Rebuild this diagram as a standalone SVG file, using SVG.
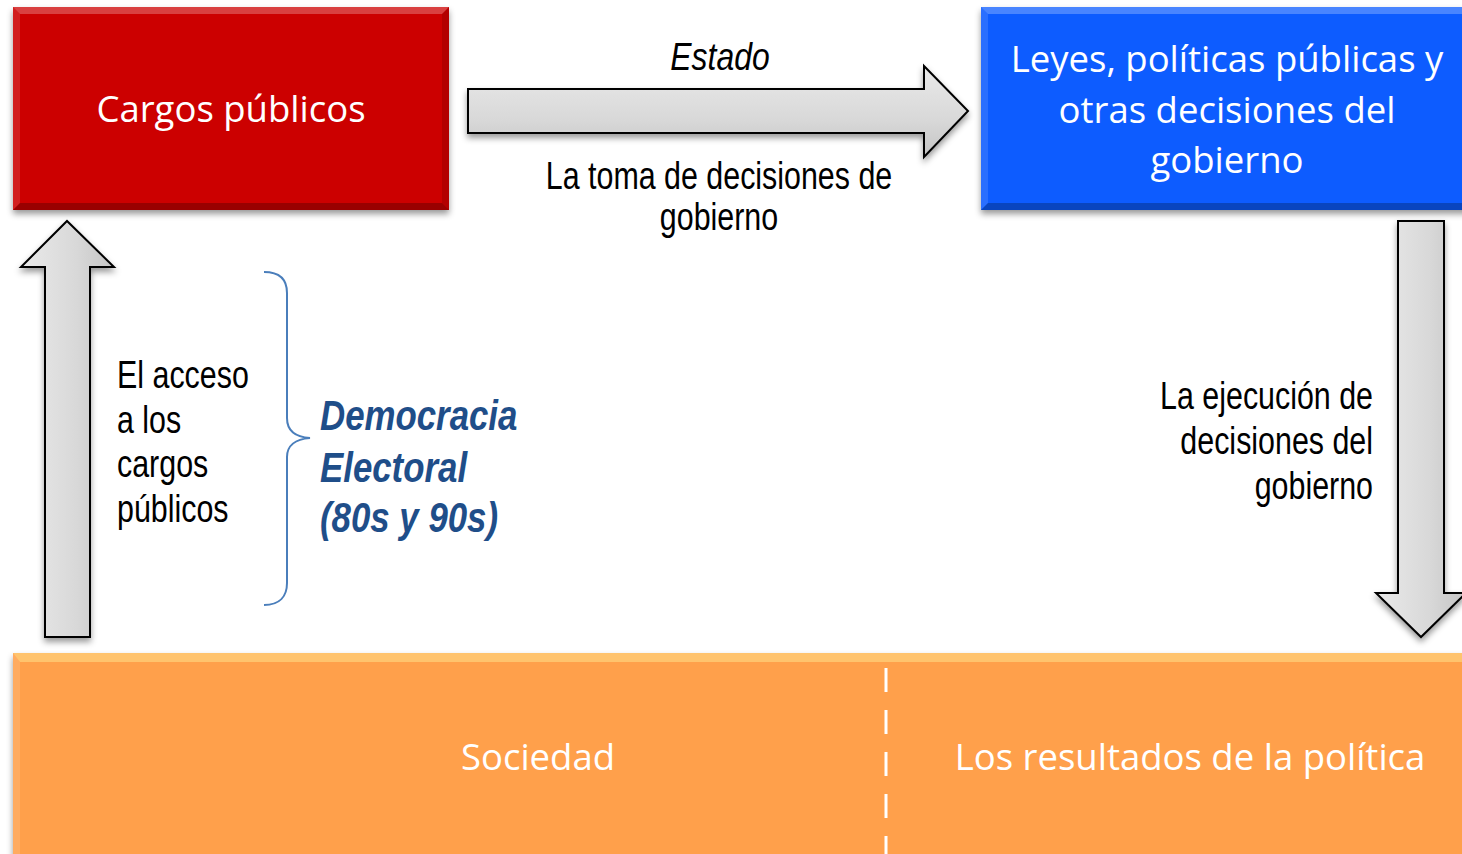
<svg xmlns="http://www.w3.org/2000/svg" width="1462" height="854" viewBox="0 0 1462 854">
<defs>
<style>
.box-t{font-family:"Open Sans","Noto Sans","Liberation Sans",sans-serif;font-size:36.5px;fill:#ffffff;text-anchor:middle}
.nar{font-family:"Liberation Sans",Arial,sans-serif;font-size:38px;fill:#000000}
.arrow{fill:url(#gv);stroke:#000000;stroke-width:2;stroke-linejoin:miter;filter:url(#sh)}
.hl{fill:#ffffff}
.dk{fill:#000000}
</style>
<filter id="sh" x="-10%" y="-10%" width="120%" height="130%">
<feDropShadow dx="0" dy="4" stdDeviation="3" flood-color="#000000" flood-opacity="0.4"/>
</filter>
<linearGradient id="gv" x1="0" y1="0" x2="1" y2="0">
<stop offset="0" stop-color="#EAEAEA"/>
<stop offset="0.6" stop-color="#D8D8D8"/>
<stop offset="1" stop-color="#C4C4C4"/>
</linearGradient>
<linearGradient id="gh" x1="0" y1="0" x2="0" y2="1">
<stop offset="0" stop-color="#EAEAEA"/>
<stop offset="0.6" stop-color="#D8D8D8"/>
<stop offset="1" stop-color="#C4C4C4"/>
</linearGradient>
</defs>

<g id="cargos">
<rect x="13" y="7" width="436" height="203" fill="#CC0606" filter="url(#sh)"/>
<polygon class="hl" opacity="0.25" points="13,7 449,7 442,14 20,14"/>
<polygon class="hl" opacity="0.12" points="13,7 20,14 20,203 13,210"/>
<polygon class="dk" opacity="0.12" points="449,7 449,210 442,203 442,14"/>
<polygon class="dk" opacity="0.25" points="13,210 20,203 442,203 449,210"/>
<text class="box-t" x="231" y="122">Cargos públicos</text>
</g>

<g id="leyes">
<rect x="981" y="7" width="495" height="203" fill="#0A5CFF" filter="url(#sh)"/>
<polygon class="hl" opacity="0.25" points="981,7 1476,7 1469,14 988,14"/>
<polygon class="hl" opacity="0.12" points="981,7 988,14 988,203 981,210"/>
<polygon class="dk" opacity="0.25" points="981,210 988,203 1469,203 1476,210"/>
<text class="box-t" x="1227" y="72">Leyes, políticas públicas y</text>
<text class="box-t" x="1227" y="123">otras decisiones del</text>
<text class="box-t" x="1227" y="173">gobierno</text>
</g>

<g id="sociedad">
<rect x="13" y="653" width="1463" height="210" fill="#FFA04C" filter="url(#sh)"/>
<polygon points="13,653 1476,653 1469,662 20,662" fill="#FFE08A" opacity="0.55"/>
<polygon class="hl" opacity="0.12" points="13,653 20,662 20,863 13,863"/>
<line x1="886" y1="668" x2="886" y2="854" stroke="#ffffff" stroke-width="3" stroke-dasharray="24 18"/>
<text class="box-t" x="538" y="770">Sociedad</text>
<text class="box-t" x="1190" y="770">Los resultados de la política</text>
</g>

<g id="connectors">
<path id="arrow-estado" class="arrow" style="fill:url(#gh)" d="M468,89 L924,89 L924,66 L968,111 L924,157 L924,133 L468,133 Z"/>
<path id="arrow-acceso" class="arrow" d="M45,637 L45,267 L21,267 L67,221 L114,267 L90,267 L90,637 Z"/>
<path id="arrow-ejecucion" class="arrow" d="M1398,221 L1444,221 L1444,593 L1466,593 L1421,637 L1376,593 L1398,593 Z"/>
</g>

<g id="labels">
<text class="nar" text-anchor="middle" font-style="italic" font-size="44" transform="translate(720,70) scale(0.84,1)">Estado</text>
<text class="nar" text-anchor="middle" transform="translate(719,189) scale(0.8,1)">La toma de decisiones de</text>
<text class="nar" text-anchor="middle" transform="translate(719,230) scale(0.8,1)">gobierno</text>
<text class="nar" transform="translate(117,388) scale(0.8,1)">El acceso</text>
<text class="nar" transform="translate(117,433) scale(0.8,1)">a los</text>
<text class="nar" transform="translate(117,477) scale(0.8,1)">cargos</text>
<text class="nar" transform="translate(117,522) scale(0.8,1)">públicos</text>
<text class="nar" text-anchor="end" transform="translate(1373,409) scale(0.8,1)">La ejecución de</text>
<text class="nar" text-anchor="end" transform="translate(1373,454) scale(0.8,1)">decisiones del</text>
<text class="nar" text-anchor="end" transform="translate(1373,499) scale(0.8,1)">gobierno</text>
</g>

<g id="democracia">
<path d="M264,272 C280,272 287,280 287,293 V418 C287,430 295,437 310,438 C295,439 287,446 287,457 V583 C287,596 280,605 264,605" fill="none" stroke="#4A7EBB" stroke-width="2"/>
<g font-family="'Liberation Sans',Arial,sans-serif" font-size="43" font-weight="bold" font-style="italic" fill="#1F4E89">
<text transform="translate(320,430) scale(0.81,1)">Democracia</text>
<text transform="translate(320,482) scale(0.81,1)">Electoral</text>
<text transform="translate(320,532) scale(0.81,1)">(80s y 90s)</text>
</g>
</g>
</svg>
